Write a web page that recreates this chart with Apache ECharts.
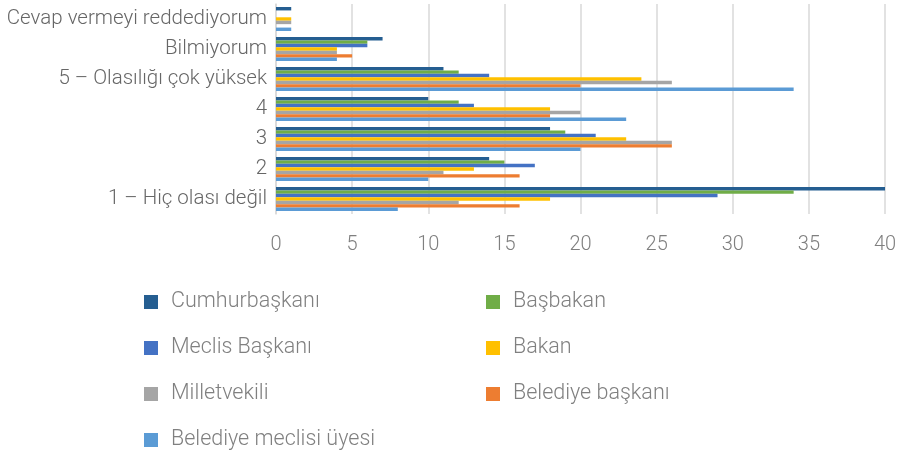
<!DOCTYPE html>
<html>
<head>
<meta charset="utf-8">
<script src="https://cdn.jsdelivr.net/npm/echarts@6/dist/echarts.min.js"></script>
<style>
  html, body { margin: 0; padding: 0; background: #fff; }
  #chart { width: 903px; height: 453px; }
</style>
</head>
<body>
<div id="chart"></div>
<script>
// Response categories, bottom to top
const categories = [
  '1 – Hiç olası değil',
  '2',
  '3',
  '4',
  '5 – Olasılığı çok yüksek',
  'Bilmiyorum',
  'Cevap vermeyi reddediyorum'
];

// Percentages per office, in category order above
const cumhurbaskani = [40, 14, 18, 10, 11, 7, 1];
const basbakan      = [34, 15, 19, 12, 12, 6, 0];
const meclisBaskani = [29, 17, 21, 13, 14, 6, 0];
const bakan         = [18, 13, 23, 18, 24, 4, 1];
const milletvekili  = [12, 11, 26, 20, 26, 4, 1];
const belediyeBaskani = [16, 16, 26, 18, 20, 5, 0];
const belediyeMeclisiUyesi = [8, 10, 20, 23, 34, 4, 1];

const xTicks = [0, 5, 10, 15, 20, 25, 30, 35, 40];

const seriesDefs = [
  { name: 'Cumhurbaşkanı', data: cumhurbaskani, color: '#255E91' },
  { name: 'Başbakan', data: basbakan, color: '#70AD47' },
  { name: 'Meclis Başkanı', data: meclisBaskani, color: '#4472C4' },
  { name: 'Bakan', data: bakan, color: '#FFC000' },
  { name: 'Milletvekili', data: milletvekili, color: '#A5A5A5' },
  { name: 'Belediye başkanı', data: belediyeBaskani, color: '#ED7D31' },
  { name: 'Belediye meclisi üyesi', data: belediyeMeclisiUyesi, color: '#5B9BD5' }
];

const font = 'Roboto, "Noto Sans", sans-serif';

const legendCommon = {
  orient: 'vertical',
  icon: 'rect',
  itemWidth: 14,
  itemHeight: 14,
  itemGap: 24,
  height: 220,
  selectedMode: false,
  textStyle: { fontFamily: font, fontSize: 21.5, color: '#808080', fontWeight: 300, lineHeight: 22, padding: [0, 0, 0, 8] }
};

const chart = echarts.init(document.getElementById('chart'), null, { renderer: 'canvas' });
chart.setOption({
  animation: false,
  color: seriesDefs.map(s => s.color),
  grid: { left: 276, right: 18, top: 4, bottom: 239, containLabel: false },
  legend: [
    Object.assign({}, legendCommon, {
      left: 139, top: 286,
      data: ['Cumhurbaşkanı', 'Meclis Başkanı', 'Milletvekili', 'Belediye meclisi üyesi']
    }),
    Object.assign({}, legendCommon, {
      left: 481, top: 286,
      data: ['Başbakan', 'Bakan', 'Belediye başkanı']
    })
  ],
  xAxis: {
    type: 'value',
    min: 0,
    max: 40,
    interval: 5,
    axisLine: { show: false },
    axisTick: { show: false },
    axisLabel: {
      margin: 21,
      fontFamily: font,
      fontSize: 20,
      fontWeight: 300,
      color: '#7f7f7f',
      formatter: v => (xTicks.indexOf(v) >= 0 ? String(v) : '')
    },
    splitLine: { show: true, lineStyle: { color: '#d9d9d9', width: 1.5 } }
  },
  yAxis: {
    type: 'category',
    data: categories,
    axisLine: { show: true, lineStyle: { color: '#d9d9d9', width: 1.5 } },
    axisTick: { show: false },
    axisLabel: {
      margin: 9,
      fontFamily: font,
      fontSize: 20.5,
      fontWeight: 300,
      color: '#666666'
    }
  },
  series: seriesDefs.map(s => ({
    name: s.name,
    type: 'bar',
    data: s.data,
    barGap: '0%',
    barCategoryGap: '20%',
    itemStyle: { color: s.color }
  }))
});
</script>
</body>
</html>
